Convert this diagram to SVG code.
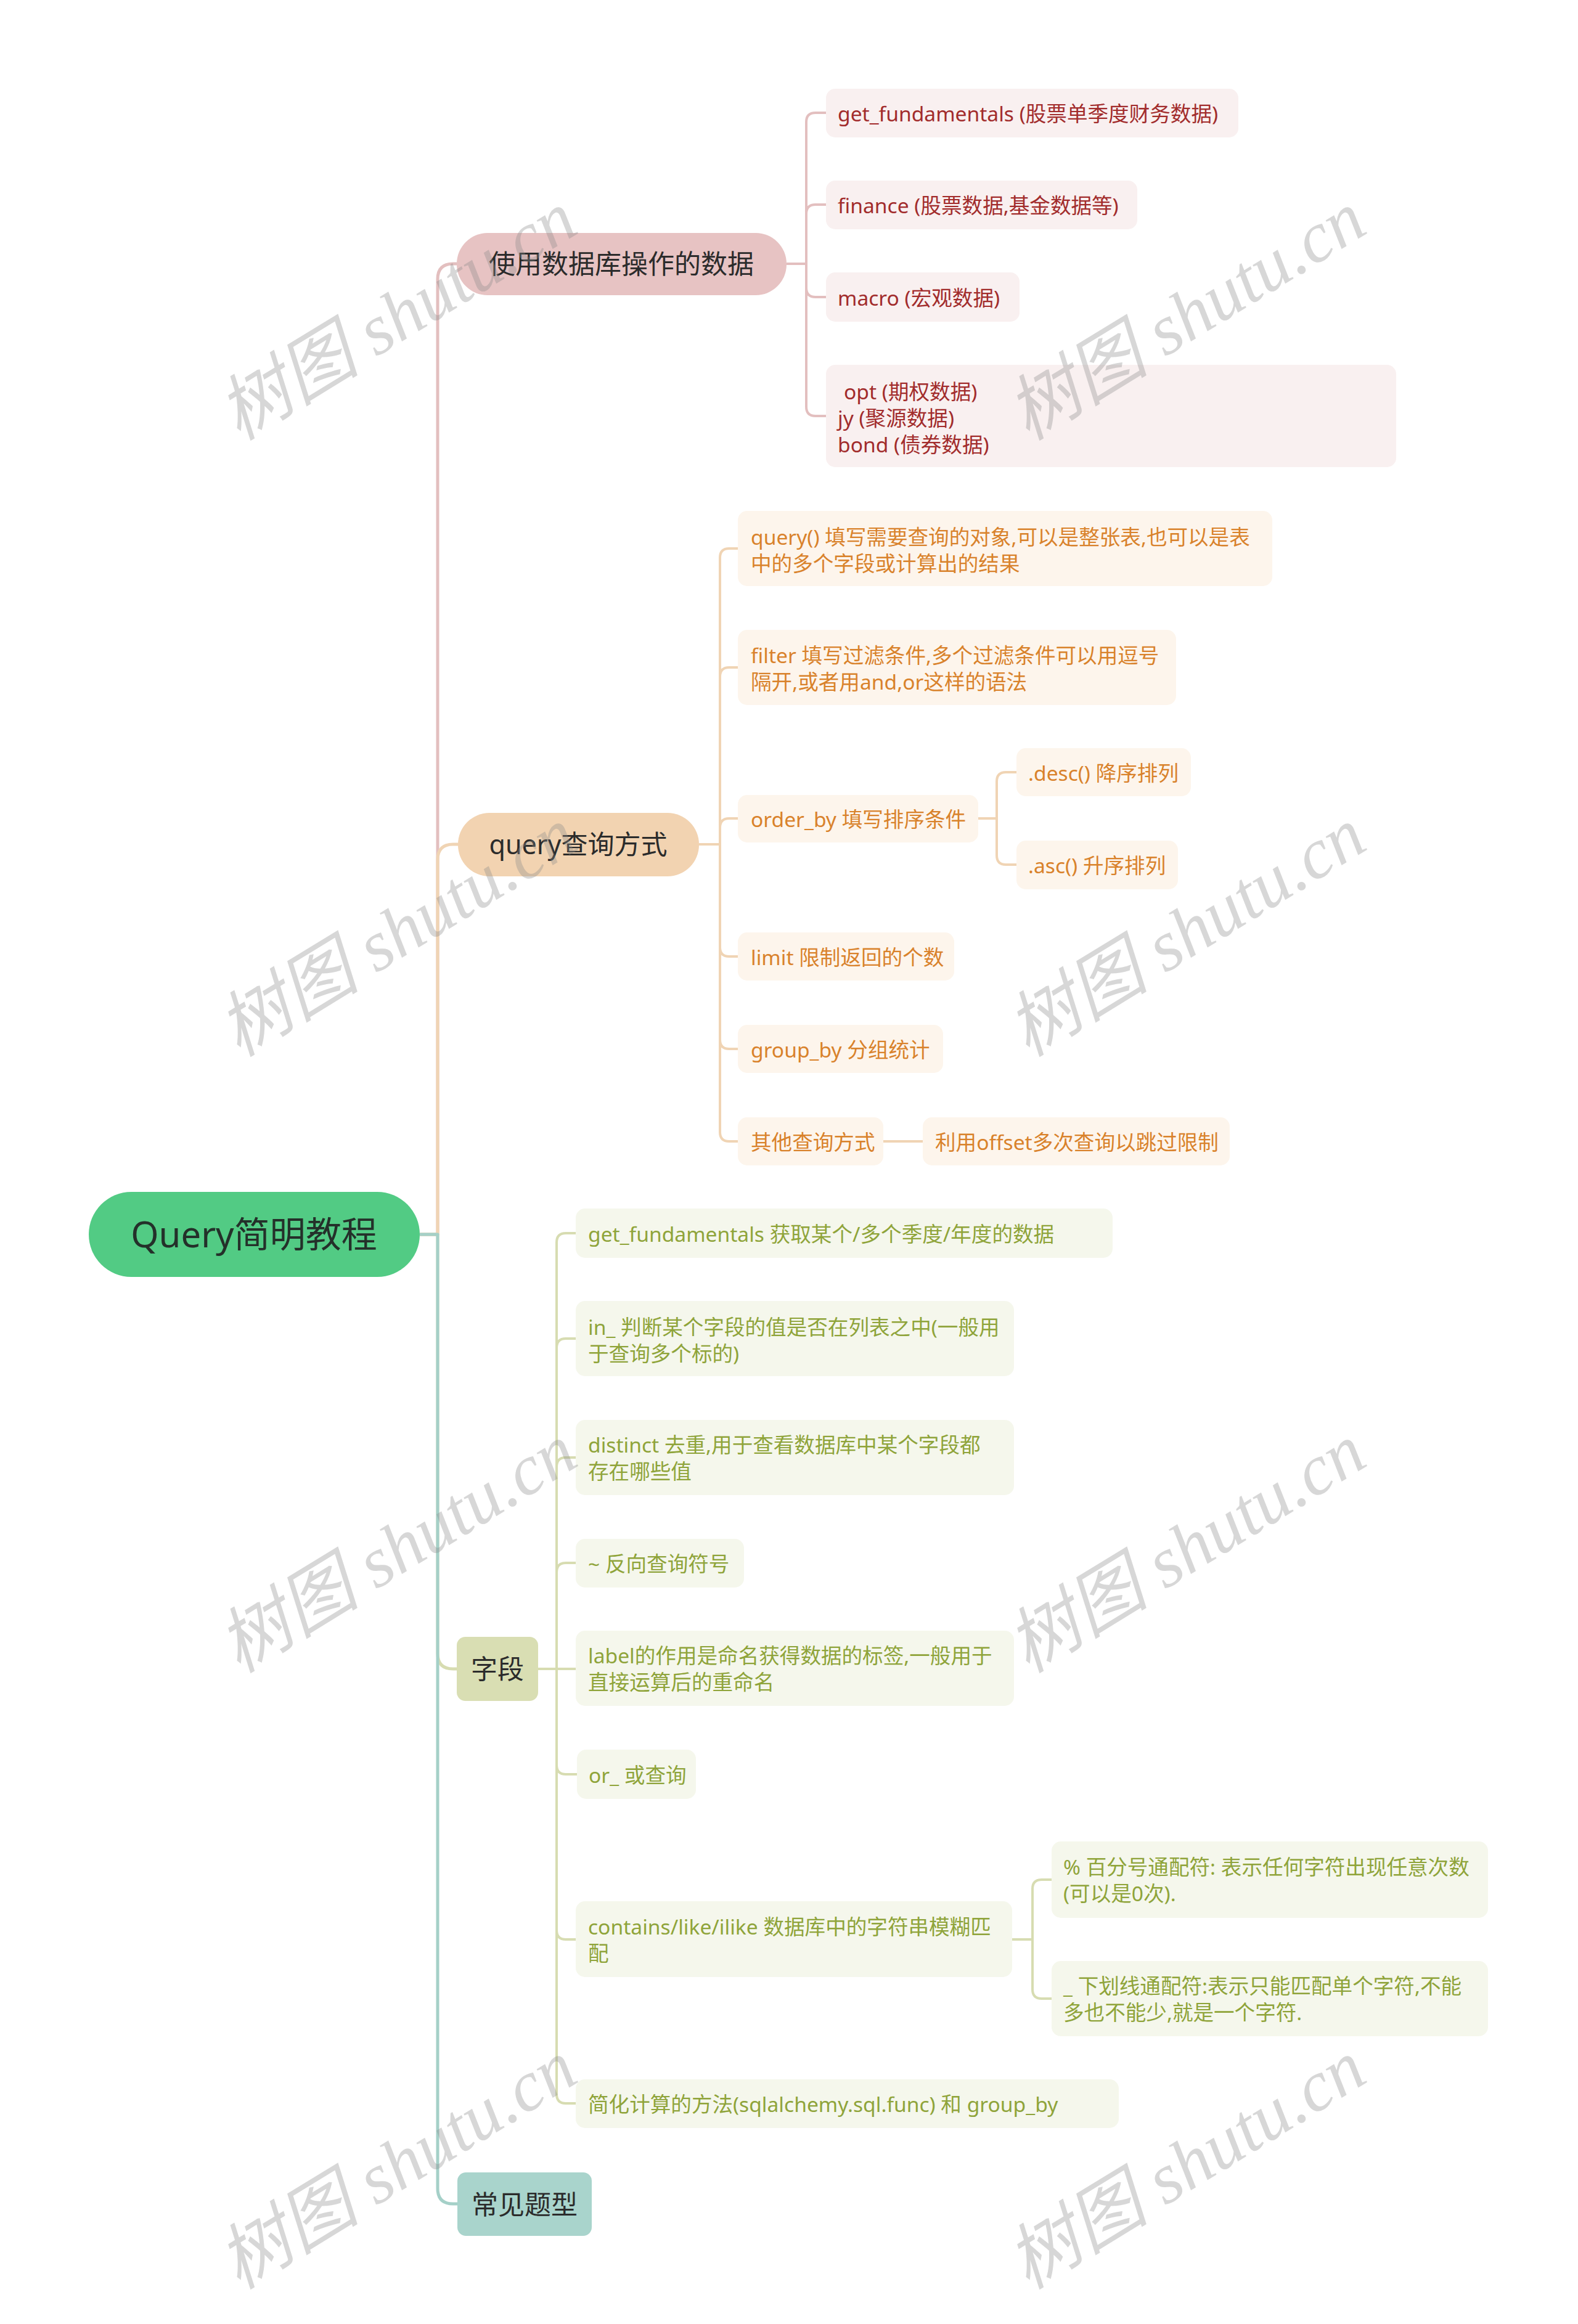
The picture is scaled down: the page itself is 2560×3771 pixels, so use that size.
<svg xmlns="http://www.w3.org/2000/svg" width="2560" height="3771" viewBox="0 0 2560 3771">
<style>
.c1{fill:none;stroke-width:5;stroke-linejoin:round}
.c2{fill:none;stroke-width:4;stroke-linejoin:round}
.pk{stroke:#E3BFBF}.pe{stroke:#F0D4B4}.ol{stroke:#D7DCB1}.te{stroke:#A5D0C8}
.t{font-family:"Noto Sans","Noto Sans CJK SC",sans-serif}
.t0{font-size:58px;fill:#24302A;text-anchor:middle}
.t1{font-size:43px;fill:#2B2B2B;text-anchor:middle}
.t2{font-size:33.6px}
.rd{fill:#A22C2C}.or{fill:#D9822B}.gr{fill:#8FA43A}
.bpk{fill:#F9F0F0}.bpe{fill:#FDF5EC}.bol{fill:#F5F7EC}
.wm{font-family:"Liberation Serif","Noto Sans CJK SC",serif;font-style:italic;font-size:116px;fill:#8A8A8A;fill-opacity:0.34;text-anchor:middle}
</style>
<rect width="2560" height="3771" fill="#FFFFFF"/>

<g id="connectors">
  <path class="c1 pk" d="M681,2003 H710 V453 Q710,428 735,428 H741"/>
  <path class="c1 pe" d="M681,2003 H710 V1395 Q710,1370 735,1370 H743"/>
  <path class="c1 ol" d="M681,2003 H710 V2683 Q710,2708 735,2708 H741"/>
  <path class="c1 te" d="M681,2003 H710 V3551 Q710,3576 735,3576 H742"/>

  <path class="c2 pk" d="M1276,428 H1308 V198 Q1308,183 1323,183 H1340"/>
  <path class="c2 pk" d="M1276,428 H1308 V347 Q1308,332 1323,332 H1340"/>
  <path class="c2 pk" d="M1276,428 H1308 V467 Q1308,482 1323,482 H1340"/>
  <path class="c2 pk" d="M1276,428 H1308 V660 Q1308,675 1323,675 H1340"/>

  <path class="c2 pe" d="M1134,1370 H1168 V905 Q1168,890 1183,890 H1197"/>
  <path class="c2 pe" d="M1134,1370 H1168 V1098 Q1168,1083 1183,1083 H1197"/>
  <path class="c2 pe" d="M1134,1370 H1168 V1343 Q1168,1328 1183,1328 H1197"/>
  <path class="c2 pe" d="M1134,1370 H1168 V1537 Q1168,1552 1183,1552 H1197"/>
  <path class="c2 pe" d="M1134,1370 H1168 V1687 Q1168,1702 1183,1702 H1197"/>
  <path class="c2 pe" d="M1134,1370 H1168 V1837 Q1168,1852 1183,1852 H1197"/>
  <path class="c2 pe" d="M1587,1328 H1617 V1268 Q1617,1253 1632,1253 H1649"/>
  <path class="c2 pe" d="M1587,1328 H1617 V1388 Q1617,1403 1632,1403 H1649"/>
  <path class="c2 pe" d="M1433,1852 H1497"/>

  <path class="c2 ol" d="M873,2708 H903 V2016 Q903,2001 918,2001 H934"/>
  <path class="c2 ol" d="M873,2708 H903 V2187 Q903,2172 918,2172 H934"/>
  <path class="c2 ol" d="M873,2708 H903 V2380 Q903,2365 918,2365 H934"/>
  <path class="c2 ol" d="M873,2708 H903 V2551 Q903,2536 918,2536 H934"/>
  <path class="c2 ol" d="M873,2708 H934"/>
  <path class="c2 ol" d="M873,2708 H903 V2864 Q903,2879 918,2879 H936"/>
  <path class="c2 ol" d="M873,2708 H903 V3132 Q903,3147 918,3147 H934"/>
  <path class="c2 ol" d="M873,2708 H903 V3398 Q903,3413 918,3413 H934"/>
  <path class="c2 ol" d="M1642,3147 H1675 V3065 Q1675,3050 1690,3050 H1706"/>
  <path class="c2 ol" d="M1642,3147 H1675 V3228 Q1675,3243 1690,3243 H1706"/>
</g>

<g id="root">
  <rect x="144" y="1934" width="537" height="138" rx="69" fill="#52CB84"/>
  <text class="t t0" x="412" y="2024">Query简明教程</text>
</g>

<g id="n-db">
  <rect x="741" y="378" width="535" height="101" rx="50" fill="#E7C3C3"/>
  <text class="t t1" x="1008" y="444">使用数据库操作的数据</text>
</g>
<g id="n-db-1">
  <rect class="bpk" x="1340" y="144" width="669" height="79" rx="15"/>
  <text class="t t2 rd" x="1359" y="197">get_fundamentals (股票单季度财务数据)</text>
</g>
<g id="n-db-2">
  <rect class="bpk" x="1340" y="293" width="505" height="79" rx="15"/>
  <text class="t t2 rd" x="1359" y="346">finance (股票数据,基金数据等)</text>
</g>
<g id="n-db-3">
  <rect class="bpk" x="1340" y="442" width="314" height="80" rx="15"/>
  <text class="t t2 rd" x="1359" y="496">macro (宏观数据)</text>
</g>
<g id="n-db-4">
  <rect class="bpk" x="1340" y="592" width="925" height="166" rx="15"/>
  <text class="t t2 rd" x="1369" y="648">opt (期权数据)</text>
  <text class="t t2 rd" x="1359" y="691">jy (聚源数据)</text>
  <text class="t t2 rd" x="1359" y="734">bond (债券数据)</text>
</g>

<g id="n-query">
  <rect x="743" y="1319" width="391" height="103" rx="51" fill="#F2D3B1"/>
  <text class="t t1" x="938" y="1386">query查询方式</text>
</g>
<g id="n-q-1">
  <rect class="bpe" x="1197" y="829" width="867" height="122" rx="15"/>
  <text class="t t2 or" x="1218" y="884">query() 填写需要查询的对象,可以是整张表,也可以是表</text>
  <text class="t t2 or" x="1218" y="927">中的多个字段或计算出的结果</text>
</g>
<g id="n-q-2">
  <rect class="bpe" x="1197" y="1022" width="711" height="122" rx="15"/>
  <text class="t t2 or" x="1218" y="1076">filter 填写过滤条件,多个过滤条件可以用逗号</text>
  <text class="t t2 or" x="1218" y="1119">隔开,或者用and,or这样的语法</text>
</g>
<g id="n-q-3">
  <rect class="bpe" x="1197" y="1290" width="390" height="77" rx="15"/>
  <text class="t t2 or" x="1218" y="1342">order_by 填写排序条件</text>
</g>
<g id="n-q-3a">
  <rect class="bpe" x="1649" y="1214" width="283" height="78" rx="15"/>
  <text class="t t2 or" x="1668" y="1267">.desc() 降序排列</text>
</g>
<g id="n-q-3b">
  <rect class="bpe" x="1649" y="1364" width="262" height="79" rx="15"/>
  <text class="t t2 or" x="1668" y="1417">.asc() 升序排列</text>
</g>
<g id="n-q-4">
  <rect class="bpe" x="1197" y="1513" width="351" height="78" rx="15"/>
  <text class="t t2 or" x="1218" y="1566">limit 限制返回的个数</text>
</g>
<g id="n-q-5">
  <rect class="bpe" x="1197" y="1663" width="333" height="78" rx="15"/>
  <text class="t t2 or" x="1218" y="1716">group_by 分组统计</text>
</g>
<g id="n-q-6">
  <rect class="bpe" x="1197" y="1813" width="236" height="78" rx="15"/>
  <text class="t t2 or" x="1218" y="1866">其他查询方式</text>
</g>
<g id="n-q-6a">
  <rect class="bpe" x="1497" y="1813" width="498" height="78" rx="15"/>
  <text class="t t2 or" x="1517" y="1866">利用offset多次查询以跳过限制</text>
</g>

<g id="n-field">
  <rect x="741" y="2656" width="132" height="104" rx="14" fill="#D9DEB3"/>
  <text class="t t1" x="807" y="2724">字段</text>
</g>
<g id="n-f-1">
  <rect class="bol" x="934" y="1961" width="871" height="80" rx="15"/>
  <text class="t t2 gr" x="954" y="2015">get_fundamentals 获取某个/多个季度/年度的数据</text>
</g>
<g id="n-f-2">
  <rect class="bol" x="934" y="2111" width="711" height="122" rx="15"/>
  <text class="t t2 gr" x="954" y="2166">in_ 判断某个字段的值是否在列表之中(一般用</text>
  <text class="t t2 gr" x="954" y="2209">于查询多个标的)</text>
</g>
<g id="n-f-3">
  <rect class="bol" x="934" y="2304" width="711" height="122" rx="15"/>
  <text class="t t2 gr" x="954" y="2357">distinct 去重,用于查看数据库中某个字段都</text>
  <text class="t t2 gr" x="954" y="2400">存在哪些值</text>
</g>
<g id="n-f-4">
  <rect class="bol" x="934" y="2497" width="273" height="79" rx="15"/>
  <text class="t t2 gr" x="954" y="2550">~ 反向查询符号</text>
</g>
<g id="n-f-5">
  <rect class="bol" x="934" y="2646" width="711" height="122" rx="15"/>
  <text class="t t2 gr" x="954" y="2699">label的作用是命名获得数据的标签,一般用于</text>
  <text class="t t2 gr" x="954" y="2742">直接运算后的重命名</text>
</g>
<g id="n-f-6">
  <rect class="bol" x="936" y="2839" width="193" height="80" rx="15"/>
  <text class="t t2 gr" x="955" y="2893">or_ 或查询</text>
</g>
<g id="n-f-7">
  <rect class="bol" x="934" y="3085" width="708" height="123" rx="15"/>
  <text class="t t2 gr" x="954" y="3139">contains/like/ilike 数据库中的字符串模糊匹</text>
  <text class="t t2 gr" x="954" y="3182">配</text>
</g>
<g id="n-f-7a">
  <rect class="bol" x="1706" y="2988" width="708" height="124" rx="15"/>
  <text class="t t2 gr" x="1725" y="3042">% 百分号通配符: 表示任何字符出现任意次数</text>
  <text class="t t2 gr" x="1725" y="3085">(可以是0次).</text>
</g>
<g id="n-f-7b">
  <rect class="bol" x="1706" y="3182" width="708" height="122" rx="15"/>
  <text class="t t2 gr" x="1725" y="3235">_ 下划线通配符:表示只能匹配单个字符,不能</text>
  <text class="t t2 gr" x="1725" y="3278">多也不能少,就是一个字符.</text>
</g>
<g id="n-f-8">
  <rect class="bol" x="934" y="3374" width="881" height="79" rx="15"/>
  <text class="t t2 gr" x="954" y="3427">简化计算的方法(sqlalchemy.sql.func) 和 group_by</text>
</g>

<g id="n-types">
  <rect x="742" y="3525" width="218" height="103" rx="14" fill="#A9D4CC"/>
  <text class="t t1" x="851" y="3593">常见题型</text>
</g>

<g id="watermarks">
  <text class="wm" transform="translate(644,512) rotate(-31.5)" y="40">树图 shutu.cn</text>
  <text class="wm" transform="translate(1924,512) rotate(-31.5)" y="40">树图 shutu.cn</text>
  <text class="wm" transform="translate(644,1512) rotate(-31.5)" y="40">树图 shutu.cn</text>
  <text class="wm" transform="translate(1924,1512) rotate(-31.5)" y="40">树图 shutu.cn</text>
  <text class="wm" transform="translate(644,2512) rotate(-31.5)" y="40">树图 shutu.cn</text>
  <text class="wm" transform="translate(1924,2512) rotate(-31.5)" y="40">树图 shutu.cn</text>
  <text class="wm" transform="translate(644,3512) rotate(-31.5)" y="40">树图 shutu.cn</text>
  <text class="wm" transform="translate(1924,3512) rotate(-31.5)" y="40">树图 shutu.cn</text>
</g>
</svg>
